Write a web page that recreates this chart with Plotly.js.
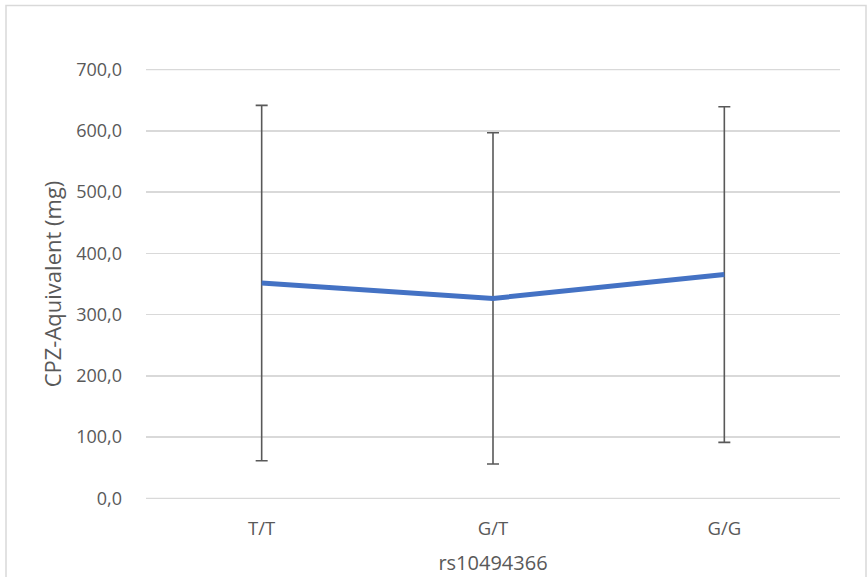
<!DOCTYPE html>
<html>
<head>
<meta charset="utf-8">
<script src="https://cdn.plot.ly/plotly-3.0.1.min.js"></script>
<style>html,body{margin:0;padding:0;background:#fff;}#chart{width:868px;height:577px;}</style>
</head>
<body>
<div id="chart"></div>
<script>
const categories = ["T/T", "G/T", "G/G"];
const meanValues = [351.5, 326.5, 365.4];
const errorValues = [290.0, 270.3, 273.9];
const yTickValues = [0, 100, 200, 300, 400, 500, 600, 700];
const yTickLabels = ["0,0", "100,0", "200,0", "300,0", "400,0", "500,0", "600,0", "700,0"];
const xTitle = "rs10494366";
const yTitle = "CPZ-Aquivalent (mg)";

const fontFam = "Open Sans, Lato, sans-serif";
const grey = "#595959";
const gridColor = "#d9d9d9";

const trace = {
  x: categories,
  y: meanValues,
  type: "scatter",
  mode: "lines",
  line: {color: "#4472C4", width: 5},
  error_y: {type: "data", array: errorValues, symmetric: true, visible: true,
            color: grey, thickness: 1.6, width: 6},
  hoverinfo: "x+y",
  showlegend: false
};

const yMin = yTickValues[0], yMax = yTickValues[yTickValues.length - 1];

// edge gridlines (Plotly omits gridlines exactly at range limits)
const edgeGrid = [yMin, yMax].map(v => ({
  type: "line", xref: "paper", yref: "y", x0: 0, x1: 1, y0: v, y1: v,
  line: {color: gridColor, width: 1.5}, layer: "below"
}));

const layout = {
  width: 868, height: 577,
  margin: {l: 146, r: 28, t: 69, b: 78},
  paper_bgcolor: "#fff", plot_bgcolor: "#fff",
  font: {family: fontFam, color: grey, size: 18},
  xaxis: {
    type: "category",
    range: [-0.5, 2.5],
    showgrid: false, zeroline: false, showline: false,
    ticks: "", ticklabelstandoff: 16,
    tickfont: {size: 18.5, color: grey, family: fontFam},
    title: {text: xTitle, font: {size: 20, color: grey, family: fontFam}, standoff: 17}
  },
  yaxis: {
    range: [-0.9, 700.9],
    tickvals: yTickValues, ticktext: yTickLabels,
    showgrid: true, gridcolor: gridColor, gridwidth: 1.5,
    zeroline: false, showline: false, ticks: "", ticklabelstandoff: 23,
    tickfont: {size: 18, color: grey, family: fontFam},
    title: {text: yTitle, font: {size: 22, color: grey, family: fontFam}, standoff: 8}
  },
  shapes: [{
    type: "rect", xref: "paper", yref: "paper",
    x0: (6 - 146) / 694, x1: (866 - 146) / 694,
    y0: (499 - 590) / 430, y1: (499 - 5.5) / 430,
    line: {color: gridColor, width: 1.5}, fillcolor: "rgba(0,0,0,0)", layer: "below"
  }].concat(edgeGrid)
};

Plotly.newPlot("chart", [trace], layout, {displayModeBar: false, staticPlot: true});
</script>
</body>
</html>
